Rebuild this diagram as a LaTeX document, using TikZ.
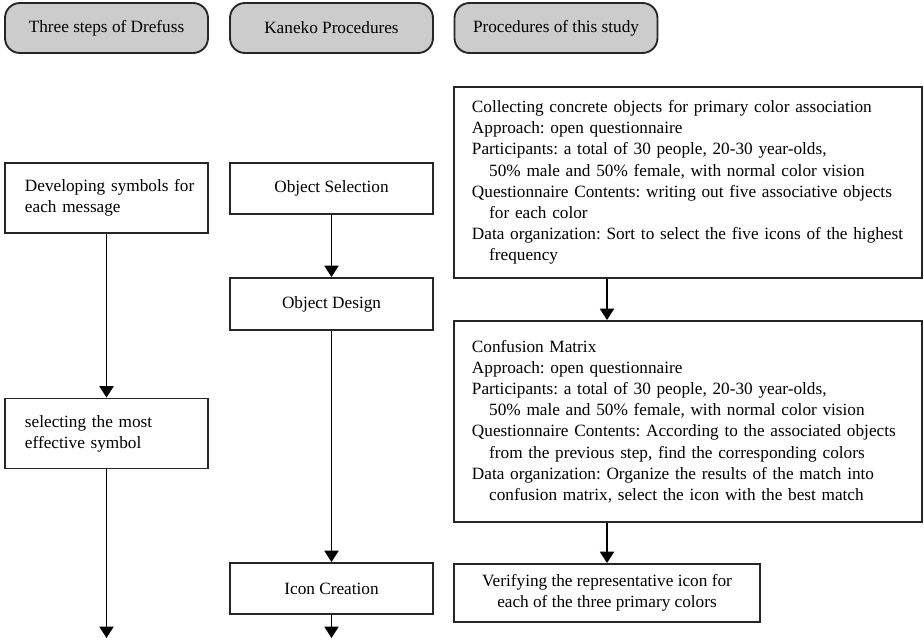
\documentclass[tikz,border=0pt]{standalone}
\usepackage{fontspec}
\setmainfont{Liberation Serif}
\usetikzlibrary{positioning, arrows.meta}

\begin{document}
\frenchspacing
\begin{tikzpicture}[x=0.03cm, y=-0.03cm,
	every node/.style={font=\fontsize{14.7}{18.1}\selectfont},
	hdr/.style={draw=black!85, line width=1.6pt, fill=black!20, rounded corners=0.45cm, minimum width=6.09cm, minimum height=1.5cm},
	leftbox/.style={draw=black!85, line width=1.6pt, text width=4.89cm, inner xsep=0.6cm, align=left, minimum height=2.1cm},
	midbox/.style={draw=black!85, line width=1.6pt, minimum width=6.09cm},
	bigbox/.style={draw=black!85, line width=1.6pt, text width=12.96cm, inner xsep=0.54cm, align=left},
	arr/.style={line width=1.6pt, -{Triangle[length=0.34cm, width=0.42cm]}}]
			
			\def\ind{\hspace*{1em}}
			
			\useasboundingbox (0,0) rectangle (924,640);
			
			\node[hdr] (drefuss) at (106.5,28) {Three steps of Drefuss};
			\node[hdr] (kaneko) at (331.5,28) {Kaneko Procedures};
			\node[hdr] (study) at (556,28) {Procedures of this study};
			
			\node[leftbox] (develop) at (106.5,198) {\mbox{Developing symbols for}\\each message};
			\node[leftbox] (select) at (106.5,433.5) {selecting the most\\effective symbol};
			
			\node[midbox, minimum height=1.53cm] (objsel) at (331.5,188.5) {Object Selection};
			\node[midbox, minimum height=1.56cm] (objdes) at (331.5,304) {Object Design};
			\node[midbox, minimum height=1.53cm] (iconcr) at (331.5,588.5) {Icon Creation};
			
			\node[bigbox, minimum height=5.73cm] (collect) at (688,182.5) {Collecting concrete objects for primary color association\\
				Approach: open questionnaire\\
				Participants: a total of 30 people, 20-30 year-olds,\\
				\ind 50\% male and 50\% female, with normal color vision\\
				Questionnaire Contents: writing out five associative objects\\
				\ind for each color\\
				\mbox{Data organization: Sort to select the five icons of the highest}\\
				\ind frequency};
			\node[bigbox, minimum height=6.03cm] (confus) at (688,421.5) {Confusion Matrix\\
				Approach: open questionnaire\\
				Participants: a total of 30 people, 20-30 year-olds,\\
				\ind 50\% male and 50\% female, with normal color vision\\
				\mbox{Questionnaire Contents: According to the associated objects}\\
				\ind from the previous step, find the corresponding colors\\
				Data organization: Organize the results of the match into\\
				\ind confusion matrix, select the icon with the best match};
			\node[draw=black!85, line width=1.6pt, minimum width=9.18cm, minimum height=1.74cm, align=center] (verify) at (607,593) {Verifying the representative icon for\\each of the three primary colors};
			
			\coordinate (endA) at (106.5,638);
			\coordinate (endB) at (331.5,638);
			
			\foreach \a/\b in {develop/select, select/endA, objsel/objdes, objdes/iconcr, iconcr/endB}
			\draw[arr] (\a) -- (\b);
			
			\draw[arr] (collect.south -| verify) -- (confus.north -| verify);
			\draw[arr] (confus.south -| verify) -- (verify);
			\end{tikzpicture}
\end{document}
